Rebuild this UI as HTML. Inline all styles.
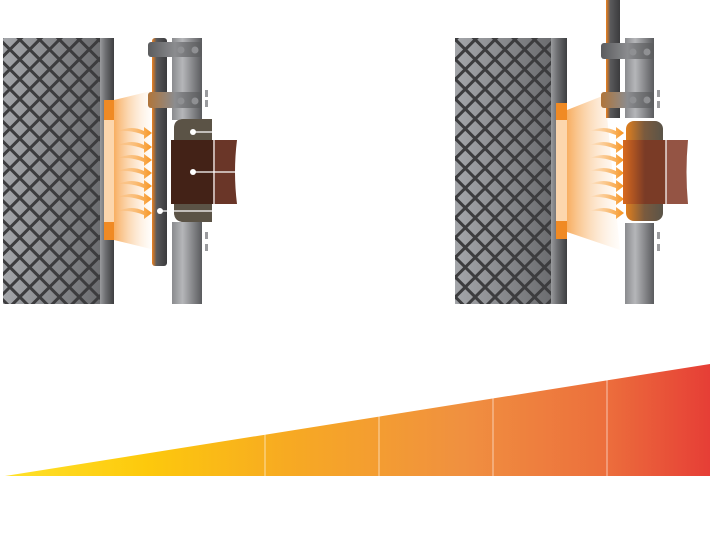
<!DOCTYPE html>
<html><head><meta charset="utf-8"><style>html,body{margin:0;padding:0;background:#fff}svg{display:block}</style></head>
<body>
<svg width="711" height="534" viewBox="0 0 711 534" xmlns="http://www.w3.org/2000/svg">
<defs>
<linearGradient id="panel" x1="0" x2="1"><stop offset="0" stop-color="#a4a6aa"/><stop offset="1" stop-color="#6c6d70"/></linearGradient>
<pattern id="mesh" width="14" height="14" patternUnits="userSpaceOnUse" patternTransform="rotate(45)">
<rect width="14" height="14" fill="none" stroke="#3c3c3e" stroke-width="3"/></pattern>
<linearGradient id="pipe" x1="0" x2="1"><stop offset="0" stop-color="#8a8b8e"/><stop offset=".35" stop-color="#b5b6b9"/><stop offset="1" stop-color="#5a5b5e"/></linearGradient>
<linearGradient id="strip" x1="0" x2="1"><stop offset="0" stop-color="#9a9b9e"/><stop offset=".4" stop-color="#6d6e71"/><stop offset="1" stop-color="#3d3e40"/></linearGradient>
<linearGradient id="rod" x1="0" x2="1"><stop offset="0" stop-color="#f0821e"/><stop offset=".3" stop-color="#5a5a5c"/><stop offset="1" stop-color="#3b3b3d"/></linearGradient>
<linearGradient id="clamp" x1="0" x2="1"><stop offset="0" stop-color="#5b5c5e"/><stop offset=".5" stop-color="#8b8c8f"/><stop offset="1" stop-color="#5a5b5d"/></linearGradient>
<linearGradient id="clamp2" x1="0" x2="1"><stop offset="0" stop-color="#b0753a"/><stop offset=".5" stop-color="#8b8c8f"/><stop offset="1" stop-color="#5a5b5d"/></linearGradient>
<linearGradient id="cone" x1="0" x2="1"><stop offset="0" stop-color="#f7a550" stop-opacity=".9"/><stop offset="1" stop-color="#fde6cc" stop-opacity="0"/></linearGradient>
<linearGradient id="cone2" x1="0" x2="1"><stop offset="0" stop-color="#f7a550" stop-opacity=".9"/><stop offset="1" stop-color="#fde6cc" stop-opacity=".1"/></linearGradient>
<linearGradient id="arrow" x1="0" x2="1"><stop offset="0" stop-color="#f7931e" stop-opacity="0"/><stop offset="1" stop-color="#f7931e"/></linearGradient>
<linearGradient id="hot" x1="0" x2="1"><stop offset="0" stop-color="#e07f1e"/><stop offset=".5" stop-color="#7a5a3e"/><stop offset="1" stop-color="#5a5448"/></linearGradient>
<linearGradient id="hotb" x1="0" x2="1"><stop offset="0" stop-color="#d9691e"/><stop offset=".5" stop-color="#7a3b26"/></linearGradient>
<linearGradient id="bar" x1="0" x2="1"><stop offset="0" stop-color="#ffe22a"/><stop offset=".2" stop-color="#fdc90c"/><stop offset=".4" stop-color="#f7aa22"/><stop offset=".65" stop-color="#f09040"/><stop offset=".85" stop-color="#ec6f3c"/><stop offset="1" stop-color="#e63e36"/></linearGradient>
<g id="arrows">
<path d="M0 0 q14 -6 26 0 l0 -4 8 6 -8 6 0 -4 q-12 -5 -26 -4z" fill="url(#arrow)"/>
</g>
</defs>

<!-- LEFT SCENE -->
<rect x="3" y="38" width="97" height="266" fill="url(#panel)"/>
<rect x="3" y="38" width="97" height="266" fill="url(#mesh)"/>
<rect x="100" y="38" width="14" height="266" fill="url(#strip)"/>
<path d="M114 100 L155 90 L155 250 L114 240z" fill="url(#cone)"/>
<rect x="104" y="100" width="10" height="140" fill="#fbd3a8"/>
<rect x="104" y="100" width="10" height="20" fill="#f08a24"/>
<rect x="104" y="222" width="10" height="18" fill="#f08a24"/>
<rect x="104" y="120" width="10" height="102" fill="#fcd6ad"/>
<g transform="translate(118,131)"><use href="#arrows"/><use href="#arrows" y="14"/><use href="#arrows" y="27"/><use href="#arrows" y="40"/><use href="#arrows" y="53"/><use href="#arrows" y="66"/><use href="#arrows" y="80"/></g>
<rect x="172" y="38" width="30" height="82" fill="url(#pipe)"/>
<rect x="172" y="222" width="30" height="82" fill="url(#pipe)"/>
<rect x="152" y="38" width="15" height="228" rx="3" fill="url(#rod)"/>
<rect x="148" y="42" width="54" height="15" rx="3" fill="url(#clamp)"/>
<rect x="148" y="92" width="54" height="16" rx="3" fill="url(#clamp2)"/>
<circle cx="181" cy="50" r="3.5" fill="#8f9093"/><circle cx="195" cy="50" r="3.5" fill="#8f9093"/>
<circle cx="181" cy="101" r="3.5" fill="#8f9093"/><circle cx="195" cy="101" r="3.5" fill="#8f9093"/>
<g fill="#9a9b9e"><rect x="205" y="90" width="3" height="7"/><rect x="205" y="100" width="3" height="7"/><rect x="205" y="232" width="3" height="7"/><rect x="205" y="244" width="3" height="7"/></g>
<rect x="174" y="119" width="38" height="103" rx="10" fill="#5b5346"/>
<path d="M174 128 Q174 119 184 119 L212 119 L212 222 L184 222 Q174 222 174 212z" fill="#5b5346"/>
<rect x="171" y="140" width="43" height="64" fill="#432217"/>
<path d="M213 140 L237 140 Q233 172 237 204 L213 204z" fill="#6a3628"/>
<path d="M204 118 L212 118 Q214 118 214 121 L214 220 Q214 223 212 223 L204 223" fill="none" stroke="#fff" stroke-width="1.2"/>
<line x1="193" y1="132" x2="213" y2="132" stroke="#fff" stroke-width="1.2"/>
<line x1="193" y1="172" x2="237" y2="172" stroke="#fff" stroke-width="1.2"/>
<line x1="160" y1="211" x2="213" y2="211" stroke="#fff" stroke-width="1.2"/>
<circle cx="193" cy="132" r="3" fill="#fff"/><circle cx="193" cy="172" r="3" fill="#fff"/><circle cx="160" cy="211" r="3" fill="#fff"/>

<!-- RIGHT SCENE -->
<rect x="455" y="38" width="96" height="266" fill="url(#panel)"/>
<rect x="455" y="38" width="96" height="266" fill="url(#mesh)"/>
<rect x="551" y="38" width="16" height="266" fill="url(#strip)"/>
<path d="M567 110 L605 95 L620 250 L567 232z" fill="url(#cone2)"/>
<rect x="556" y="110" width="11" height="122" fill="#fcd6ad"/>
<rect x="556" y="103" width="11" height="17" fill="#f08a24"/>
<rect x="556" y="221" width="11" height="18" fill="#f08a24"/>
<g transform="translate(590,131)"><use href="#arrows"/><use href="#arrows" y="14"/><use href="#arrows" y="27"/><use href="#arrows" y="40"/><use href="#arrows" y="53"/><use href="#arrows" y="66"/><use href="#arrows" y="80"/></g>
<rect x="625" y="38" width="29" height="80" fill="url(#pipe)"/>
<rect x="625" y="223" width="29" height="81" fill="url(#pipe)"/>
<rect x="606" y="0" width="14" height="118" fill="url(#rod)"/>
<rect x="601" y="43" width="53" height="16" rx="3" fill="url(#clamp)"/>
<rect x="601" y="92" width="53" height="16" rx="3" fill="url(#clamp2)"/>
<circle cx="633" cy="52" r="3.5" fill="#8f9093"/><circle cx="647" cy="52" r="3.5" fill="#8f9093"/>
<circle cx="633" cy="100" r="3.5" fill="#8f9093"/><circle cx="647" cy="100" r="3.5" fill="#8f9093"/>
<g fill="#9a9b9e"><rect x="657" y="90" width="3" height="7"/><rect x="657" y="101" width="3" height="7"/><rect x="657" y="232" width="3" height="7"/><rect x="657" y="244" width="3" height="7"/></g>
<rect x="626" y="121" width="37" height="100" rx="8" fill="url(#hot)"/>
<rect x="623" y="140" width="44" height="64" fill="url(#hotb)"/>
<path d="M666 140 L688 140 Q685 172 688 204 L666 204z" fill="#945444"/>
<path d="M655 118 L664 118 Q666 118 666 121 L666 220 Q666 223 664 223 L655 223" fill="none" stroke="#fff" stroke-width="1.2"/>

<!-- GRADIENT WEDGE -->
<polygon points="5,476 710,364 710,476" fill="url(#bar)"/>
<g stroke="#fff" stroke-opacity=".6" stroke-width="1"><line x1="265" y1="434" x2="265" y2="476"/><line x1="379" y1="416" x2="379" y2="476"/><line x1="493" y1="398" x2="493" y2="476"/><line x1="607" y1="380" x2="607" y2="476"/></g>
</svg>
</body></html>
